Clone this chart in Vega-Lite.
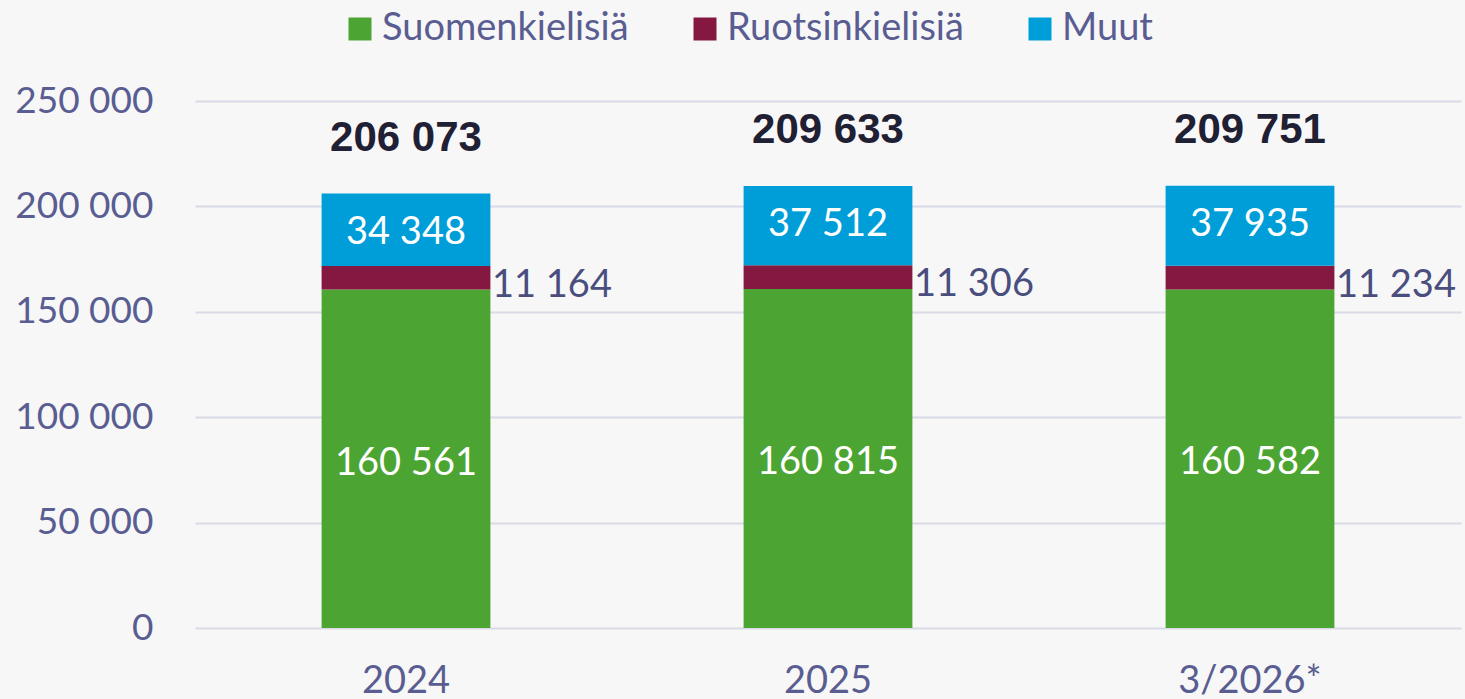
{
  "$schema": "https://vega.github.io/schema/vega-lite/v6.json",
  "width": 1266,
  "height": 527,
  "autosize": {"type": "none"},
  "padding": {"left": 195, "top": 101, "right": 4, "bottom": 71},
  "background": "#f7f7f7",
  "config": {
    "view": {"stroke": null},
    "font": "Lato",
    "locale": {"number": {"decimal": ",", "thousands": " ", "grouping": [3], "currency": ["", " €"]}}
  },
  "data": {
    "values": [
      {"year": "2024", "group": "Suomenkielisiä", "value": 160561},
      {"year": "2024", "group": "Ruotsinkielisiä", "value": 11164},
      {"year": "2024", "group": "Muut", "value": 34348},
      {"year": "2025", "group": "Suomenkielisiä", "value": 160815},
      {"year": "2025", "group": "Ruotsinkielisiä", "value": 11306},
      {"year": "2025", "group": "Muut", "value": 37512},
      {"year": "3/2026*", "group": "Suomenkielisiä", "value": 160582},
      {"year": "3/2026*", "group": "Ruotsinkielisiä", "value": 11234},
      {"year": "3/2026*", "group": "Muut", "value": 37935}
    ]
  },
  "transform": [
    {"stack": "value", "groupby": ["year"], "sort": [{"field": "group", "order": "descending"}], "as": ["v0", "v1"]}
  ],
  "encoding": {
    "x": {
      "field": "year", "type": "nominal", "sort": ["2024", "2025", "3/2026*"],
      "scale": {"paddingInner": 0.6, "paddingOuter": 0.3},
      "axis": {"title": null, "domain": false, "ticks": false, "grid": false, "labelAngle": 0, "labelFontSize": 38, "labelColor": "#595d91", "labelPadding": 34}
    },
    "y": {
      "field": "v1", "type": "quantitative",
      "scale": {"domain": [0, 250000], "nice": false},
      "axis": {"title": null, "domain": false, "ticks": false, "values": [0, 50000, 100000, 150000, 200000, 250000], "format": ",d", "labelFontSize": 37, "labelColor": "#595d91", "labelPadding": 42, "gridColor": "#d9dae8", "gridWidth": 2}
    }
  },
  "layer": [
    {
      "mark": {"type": "bar"},
      "encoding": {
        "y2": {"field": "v0"},
        "color": {
          "field": "group", "type": "nominal",
          "scale": {"domain": ["Suomenkielisiä", "Ruotsinkielisiä", "Muut"], "range": ["#4ca532", "#841840", "#009ed8"]},
          "legend": {"orient": "none", "legendX": 146, "legendY": -91, "direction": "horizontal", "title": null, "symbolType": "square", "symbolSize": 529, "symbolStrokeWidth": 0, "symbolOpacity": 1, "labelFontSize": 38, "labelColor": "#595d91", "labelFont": "Lato", "labelLimit": 500, "columnPadding": 57, "labelOffset": 3, "padding": 0}
        }
      }
    },
    {
      "transform": [{"filter": {"field": "group", "equal": "Suomenkielisiä"}}],
      "mark": {"type": "text", "dy": 174, "color": "#ffffff", "fontSize": 38},
      "encoding": {"text": {"field": "value", "type": "quantitative", "format": ",d"}}
    },
    {
      "transform": [{"filter": {"field": "group", "equal": "Muut"}}],
      "mark": {"type": "text", "dy": 39, "color": "#ffffff", "fontSize": 38},
      "encoding": {"text": {"field": "value", "type": "quantitative", "format": ",d"}}
    },
    {
      "transform": [{"filter": {"field": "group", "equal": "Ruotsinkielisiä"}}],
      "mark": {"type": "text", "dy": 20, "dx": 86, "align": "left", "color": "#4a4e7e", "fontSize": 38},
      "encoding": {"text": {"field": "value", "type": "quantitative", "format": ",d"}}
    },
    {
      "transform": [{"filter": {"field": "group", "equal": "Muut"}}],
      "mark": {"type": "text", "dy": -56, "color": "#1f2033", "fontSize": 42, "font": "Liberation Sans", "fontWeight": "bold"},
      "encoding": {"text": {"field": "v1", "type": "quantitative", "format": ",d"}}
    }
  ]
}
